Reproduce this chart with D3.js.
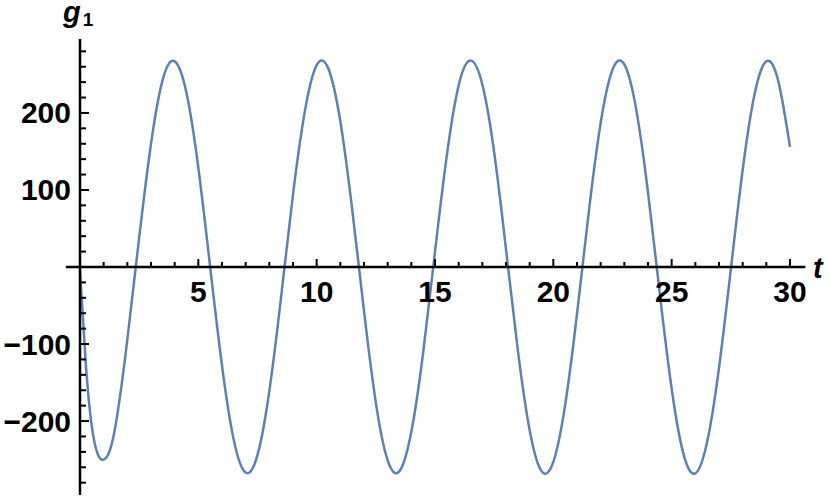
<!DOCTYPE html>
<html>
<head>
<meta charset="utf-8">
<script src="https://cdn.jsdelivr.net/npm/d3@7"></script>
<style>
  body { margin: 0; background: #fff; }
  svg { display: block; }
  text { font-family: "Liberation Sans", Arial, sans-serif; font-weight: bold; }
</style>
</head>
<body>
<svg id="chart" width="830" height="497"></svg>
<script>
var tValues = [0, 0.25, 0.5, 0.75, 1.0, 1.25, 1.5, 1.75,
	2, 2.5, 3, 3.5, 4, 4.5, 5, 5.5, 6, 6.5, 7, 7.5, 8, 8.5, 9, 9.5, 10, 10.5,
	11, 11.5, 12, 12.5, 13, 13.5, 14, 14.5, 15, 15.5, 16, 16.5, 17, 17.5, 18, 18.5,
	19, 19.5, 20, 20.5, 21, 21.5, 22, 22.5, 23, 23.5, 24, 24.5, 25, 25.5, 26, 26.5,
	27, 27.5, 28, 28.5, 29, 29.5, 30];
var g1Values = [-5, -128, -207, -243, -250, -239, -206, -155,
	-94, 38, 160, 244, 267, 226, 129, 0, -128, -225, -267, -244, -161, -38, 94, 202, 262, 257,
	189, 75, -57, -176, -251, -265, -214, -111, 20, 145, 236, 268, 237, 149, 23, -108,
	-212, -265, -253, -179, -61, 72, 187, 256, 263, 205, 97, -35, -158, -243, -268, -227,
	-131, -3, 126, 224, 267, 242, 156];

var xMajor = [5, 10, 15, 20, 25, 30];
var xMinor = d3.range(1, 31).filter(function (d) { return d % 5 != 0; });
var yMajor = [-200, -100, 100, 200];
var yMinor = d3.range(-280, 281, 20).filter(function (d) { return d % 100 != 0; });

var svg = d3.select("#chart");

var x = d3.scaleLinear()
	.domain([0, 30])
	.range([80, 790]);

var y = d3.scaleLinear()
	.domain([-296, 296])
	.range([495, 39]);

var points = tValues.map(function (t, i) { return [t, g1Values[i]]; });

var line = d3.line()
	.x(function (d) { return x(d[0]); })
	.y(function (d) { return y(d[1]); })
	.curve(d3.curveNatural);

svg.append("path")
	.datum(points)
	.attr("d", line)
	.attr("fill", "none")
	.attr("stroke", "#5e81b5")
	.attr("stroke-width", 2.5)
	.attr("stroke-linejoin", "round");

// axes (drawn on top, Mathematica style)
var axes = svg.append("g").attr("stroke", "#000");

axes.append("line")
	.attr("x1", x(-0.6)).attr("x2", x(30.65))
	.attr("y1", y(0)).attr("y2", y(0))
	.attr("stroke-width", 2.5);

axes.append("line")
	.attr("x1", x(0)).attr("x2", x(0))
	.attr("y1", y(-296)).attr("y2", y(296))
	.attr("stroke-width", 2.5);

axes.selectAll(".xmaj").data(xMajor).enter().append("line")
	.attr("x1", function (d) { return x(d); }).attr("x2", function (d) { return x(d); })
	.attr("y1", y(0)).attr("y2", y(0) - 8)
	.attr("stroke-width", 2);

axes.selectAll(".xmin").data(xMinor).enter().append("line")
	.attr("x1", function (d) { return x(d); }).attr("x2", function (d) { return x(d); })
	.attr("y1", y(0)).attr("y2", y(0) - 5)
	.attr("stroke-width", 2);

axes.selectAll(".ymaj").data(yMajor).enter().append("line")
	.attr("x1", x(0)).attr("x2", x(0) + 9)
	.attr("y1", function (d) { return y(d); }).attr("y2", function (d) { return y(d); })
	.attr("stroke-width", 2);

axes.selectAll(".ymin").data(yMinor).enter().append("line")
	.attr("x1", x(0)).attr("x2", x(0) + 6)
	.attr("y1", function (d) { return y(d); }).attr("y2", function (d) { return y(d); })
	.attr("stroke-width", 2);

// tick labels
svg.selectAll(".xlab").data(xMajor).enter().append("text")
	.attr("x", function (d) { return x(d); })
	.attr("y", y(0) + 35)
	.attr("text-anchor", "middle")
	.attr("font-size", 30)
	.text(function (d) { return d; });

svg.selectAll(".ylab").data(yMajor).enter().append("text")
	.attr("x", x(0) - 9)
	.attr("y", function (d) { return y(d) + 10.5; })
	.attr("text-anchor", "end")
	.attr("font-size", 30)
	.text(function (d) { return d < 0 ? "\u2212" + Math.abs(d) : d; });

// axis labels
svg.append("text")
	.attr("x", 813)
	.attr("y", 278)
	.attr("font-size", 29)
	.attr("font-style", "italic")
	.text("t");

var gl = svg.append("text")
	.attr("x", 63)
	.attr("y", 22)
	.attr("font-size", 29)
	.attr("font-style", "italic")
	.text("g");
gl.append("tspan")
	.attr("font-size", 19)
	.attr("font-style", "normal")
	.attr("dx", 2)
	.attr("dy", 4)
	.text("1");
</script>
</body>
</html>
